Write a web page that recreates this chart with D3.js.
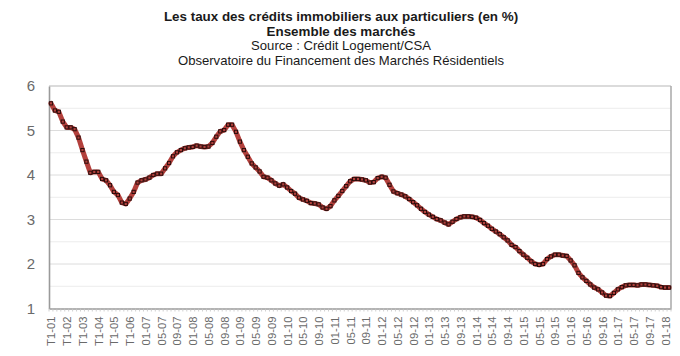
<!DOCTYPE html>
<html>
<head>
<meta charset="utf-8">
<script src="https://cdn.jsdelivr.net/npm/d3@7"></script>
<style>
  html, body { margin: 0; padding: 0; background: #fff; }
  svg { display: block; font-family: "Liberation Sans", Arial, sans-serif; }
</style>
</head>
<body>
<svg id="chart" width="680" height="356"></svg>
<script>
// ---- Data ----
const titleLines = [
  "Les taux des crédits immobiliers aux particuliers (en %)",
  "Ensemble des marchés",
  "Source : Crédit Logement/CSA",
  "Observatoire du Financement des Marchés Résidentiels"
];

// Quarterly 2001-2006, then monthly 01-2007 .. 02-2018
const quarterYears = ["01", "02", "03", "04", "05", "06"];
const quarters = ["T1", "T2", "T3", "T4"];
const monthYears = ["07", "08", "09", "10", "11", "12", "13", "14", "15", "16", "17", "18"];
const months = ["01", "02", "03", "04", "05", "06", "07", "08", "09", "10", "11", "12"];

const tickLabels = [
  "T1-01", "T1-02", "T1-03", "T1-04", "T1-05", "T1-06",
  "01-07", "05-07", "09-07", "01-08", "05-08", "09-08",
  "01-09", "05-09", "09-09", "01-10", "05-10", "09-10",
  "01-11", "05-11", "09-11", "01-12", "05-12", "09-12",
  "01-13", "05-13", "09-13", "01-14", "05-14", "09-14",
  "01-15", "05-15", "09-15", "01-16", "05-16", "09-16",
  "01-17", "05-17", "09-17", "01-18"
];

const rates = [
  // 2001-2006 quarterly
  5.61, 5.45, 5.42, 5.20, 5.07, 5.07, 5.03, 4.84, 4.56, 4.30, 4.05, 4.07,
  4.07, 3.91, 3.88, 3.77, 3.62, 3.55, 3.38, 3.35, 3.47, 3.62, 3.83, 3.88,
  // 2007
  3.90, 3.94, 4.00, 4.03, 4.03, 4.15, 4.27, 4.42, 4.51, 4.56, 4.60, 4.62,
  // 2008
  4.63, 4.66, 4.64, 4.63, 4.64, 4.72, 4.86, 4.98, 5.01, 5.13, 5.13, 4.97,
  // 2009
  4.75, 4.56, 4.41, 4.26, 4.17, 4.08, 3.96, 3.94, 3.88, 3.81, 3.76, 3.79,
  // 2010
  3.72, 3.64, 3.58, 3.49, 3.45, 3.42, 3.37, 3.36, 3.34, 3.27, 3.24, 3.30,
  // 2011
  3.43, 3.53, 3.64, 3.75, 3.86, 3.91, 3.91, 3.90, 3.88, 3.83, 3.84, 3.93,
  // 2012
  3.96, 3.94, 3.78, 3.63, 3.59, 3.56, 3.52, 3.46, 3.39, 3.32, 3.24, 3.17,
  // 2013
  3.11, 3.06, 3.01, 2.98, 2.93, 2.89, 2.95, 3.01, 3.05, 3.07, 3.07, 3.06,
  // 2014
  3.04, 2.99, 2.92, 2.86, 2.79, 2.73, 2.67, 2.60, 2.53, 2.43, 2.38, 2.29,
  // 2015
  2.21, 2.14, 2.06, 2.00, 1.98, 2.00, 2.11, 2.17, 2.21, 2.21, 2.19, 2.18,
  // 2016
  2.08, 1.97, 1.80, 1.70, 1.62, 1.54, 1.47, 1.43, 1.36, 1.29, 1.28, 1.35,
  // 2017
  1.43, 1.48, 1.52, 1.53, 1.53, 1.52, 1.54, 1.54, 1.53, 1.52, 1.51, 1.48,
  // 2018
  1.47, 1.47
];

const yTicks = [1, 2, 3, 4, 5, 6];
const yHalfTicks = [1.5, 2.5, 3.5, 4.5, 5.5];

// ---- Build categories ----
const categories = [];
quarterYears.forEach(yy => quarters.forEach(q => categories.push(q + "-" + yy)));
monthYears.forEach(yy => months.forEach(m => categories.push(m + "-" + yy)));
categories.length = rates.length;

const data = categories.map((c, i) => ({ cat: c, value: rates[i] }));

// ---- Layout ----
const svg = d3.select("#chart");
const pLeft = 49, pRight = 671, pTop = 86, pBottom = 308.5;

const x = d3.scalePoint().domain(categories).range([pLeft, pRight]).padding(0.5);
const y = d3.scaleLinear().domain([1, 6]).range([pBottom, pTop]);

// Titles
const titleY = [21, 35.5, 50, 64.5];
svg.selectAll("text.title").data(titleLines).enter().append("text")
  .attr("class", "title")
  .attr("x", 341)
  .attr("y", (d, i) => titleY[i])
  .attr("text-anchor", "middle")
  .attr("fill", "#1a1a1a")
  .attr("font-weight", (d, i) => i < 2 ? "bold" : "normal")
  .attr("font-size", (d, i) => i < 2 ? "13.4px" : "13.1px")
  .text(d => d);

// Gridlines
svg.append("g").selectAll("line").data(yHalfTicks).enter().append("line")
  .attr("x1", pLeft).attr("x2", pRight)
  .attr("y1", d => y(d)).attr("y2", d => y(d))
  .attr("stroke", "#ececec").attr("stroke-width", 1);
svg.append("g").selectAll("line").data(yTicks.filter(d => d > 1 && d < 6)).enter().append("line")
  .attr("x1", pLeft).attr("x2", pRight)
  .attr("y1", d => y(d)).attr("y2", d => y(d))
  .attr("stroke", "#dcdcdc").attr("stroke-width", 1);

// Frame (top, right)
svg.append("line").attr("x1", pLeft).attr("x2", pRight).attr("y1", pTop).attr("y2", pTop)
  .attr("stroke", "#b8b8b8").attr("stroke-width", 1.2);
svg.append("line").attr("x1", pRight).attr("x2", pRight).attr("y1", pTop).attr("y2", pBottom)
  .attr("stroke", "#a8a8a8").attr("stroke-width", 1.5);

// Y axis
const yAxis = svg.append("g")
  .attr("transform", `translate(${pLeft},0)`)
  .call(d3.axisLeft(y).tickValues(yTicks).tickSize(0).tickPadding(14).tickFormat(d3.format("d")));
yAxis.select(".domain").attr("stroke", "#9a9a9a").attr("stroke-width", 1.6);
yAxis.selectAll("text").attr("font-size", "15px").attr("fill", "#6a6a6a")
  .attr("font-family", "Liberation Sans, Arial, sans-serif");

// X axis
const xAxis = svg.append("g")
  .attr("transform", `translate(0,${pBottom})`)
  .call(d3.axisBottom(x).tickValues(tickLabels).tickSize(0).tickPadding(0));
xAxis.select(".domain").attr("stroke", "#9a9a9a").attr("stroke-width", 1.6);
xAxis.selectAll(".tick text")
  .attr("transform", "rotate(-90)")
  .attr("text-anchor", "end")
  .attr("x", -8)
  .attr("y", 0)
  .attr("dy", "0.35em")
  .attr("font-size", "11.3px")
  .attr("fill", "#6a6a6a")
  .attr("font-family", "Liberation Sans, Arial, sans-serif");

// Minor ticks between categories
const step = x.step();
const edges = d3.range(categories.length + 1).map(i => pLeft + i * step);
svg.append("g").selectAll("line").data(edges).enter().append("line")
  .attr("x1", d => d).attr("x2", d => d)
  .attr("y1", pBottom).attr("y2", pBottom + 3)
  .attr("stroke", "#c4c4c4").attr("stroke-width", 0.8);

// Line
const line = d3.line().x(d => x(d.cat)).y(d => y(d.value)).curve(d3.curveLinear);
svg.append("path").datum(data)
  .attr("d", line)
  .attr("fill", "none")
  .attr("stroke", "#b3403c")
  .attr("stroke-width", 5)
  .attr("stroke-linejoin", "round")
  .attr("stroke-linecap", "round");

// Markers
const ms = 3.2;
svg.append("g").selectAll("rect").data(data).enter().append("rect")
  .attr("x", d => x(d.cat) - ms / 2)
  .attr("y", d => y(d.value) - ms / 2)
  .attr("width", ms).attr("height", ms)
  .attr("fill", "#b3403c")
  .attr("stroke", "#2b0d0c")
  .attr("stroke-width", 1);
</script>
</body>
</html>
